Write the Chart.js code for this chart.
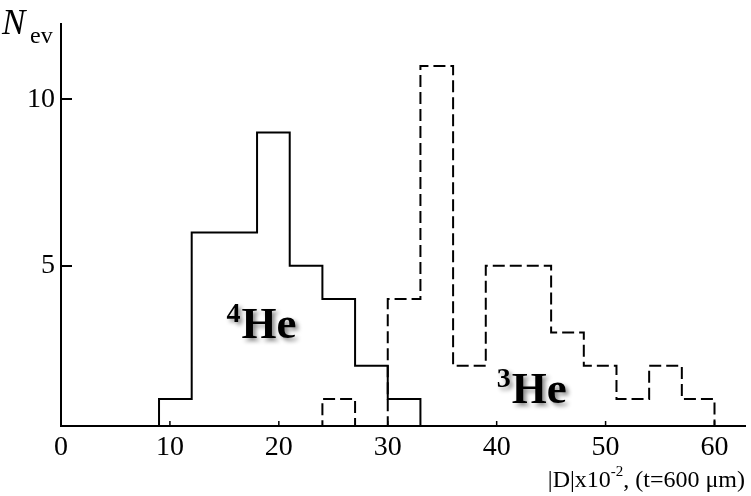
<!DOCTYPE html>
<html>
<head>
<meta charset="utf-8">
<script src="https://cdn.jsdelivr.net/npm/chart.js@4.4.0/dist/chart.umd.min.js"></script>
<style>
  html, body { margin: 0; padding: 0; background: #fff; }
  #wrap { width: 751px; height: 496px; position: relative; }
</style>
</head>
<body>
<div id="wrap"><canvas id="histChart"></canvas></div>
<script>
// Histogram bins (width 3) and counts per species
const binWidth = 3;
const he4Start = 9;
const he4Counts = [1, 6, 6, 9, 5, 4, 2, 1];
const he3Start = 24;
const he3Counts = [1, 0, 4, 11, 2, 5, 5, 3, 2, 1, 2, 1];

// Axis ticks
const xTicks = [0, 10, 20, 30, 40, 50, 60];
const yTicks = [5, 10];

const serif = '"Liberation Serif", "Times New Roman", serif';

// Turn bin counts into an outline with explicit corners
function histOutline(start, counts) {
    const pts = [{ x: start, y: 0 }];
    counts.forEach((c, i) => {
        const left = start + i * binWidth;
        pts.push({ x: left, y: c });
        pts.push({ x: left + binWidth, y: c });
    });
    pts.push({ x: start + counts.length * binWidth, y: 0 });
    return pts;
}

// Inward tick marks, axis title, y label and species labels
const decorations = {
    id: 'decorations',
    afterDraw(chart) {
        const { ctx, chartArea, scales } = chart;
        const xs = scales.x, ys = scales.y;
        ctx.save();
        ctx.strokeStyle = '#000';

        ctx.lineWidth = 2;
        yTicks.forEach(v => {
            const py = Math.round(ys.getPixelForValue(v));
            ctx.beginPath();
            ctx.moveTo(chartArea.left, py);
            ctx.lineTo(chartArea.left + 11, py);
            ctx.stroke();
        });
        ctx.lineWidth = 1.5;
        xTicks.slice(1).forEach(v => {
            const px = xs.getPixelForValue(v);
            ctx.beginPath();
            ctx.moveTo(px, chartArea.bottom);
            ctx.lineTo(px, chartArea.bottom - 5);
            ctx.stroke();
        });

        ctx.fillStyle = '#000';
        ctx.textBaseline = 'alphabetic';
        ctx.textAlign = 'left';

        // N_ev
        ctx.font = 'italic 35px ' + serif;
        ctx.fillText('N', 2, 34);
        ctx.font = '24px ' + serif;
        ctx.fillText('ev', 30, 43);

        // x axis title, right aligned
        const parts = [
            { t: '|D|x10', f: '24px ' + serif, dy: 0 },
            { t: '-2', f: '15px ' + serif, dy: -11 },
            { t: ', (t=600 \u03bcm)', f: '24px ' + serif, dy: 0 }
        ];
        let total = 0;
        parts.forEach(p => { ctx.font = p.f; p.w = ctx.measureText(p.t).width; total += p.w; });
        let tx = 745 - total;
        parts.forEach(p => {
            ctx.font = p.f;
            ctx.fillText(p.t, tx, 487 + p.dy);
            tx += p.w;
        });

        // species labels with soft shadow
        ctx.shadowColor = 'rgba(0,0,0,0.45)';
        ctx.shadowBlur = 4;
        ctx.shadowOffsetX = 3;
        ctx.shadowOffsetY = 3;
        [
            { sup: '4', x: 15.2, y: 2.83 },
            { sup: '3', x: 40.0, y: 0.88 }
        ].forEach(l => {
            const px = xs.getPixelForValue(l.x);
            const py = ys.getPixelForValue(l.y);
            ctx.font = 'bold 28px ' + serif;
            ctx.fillText(l.sup, px, py - 16);
            const w = ctx.measureText(l.sup).width;
            ctx.font = 'bold 45px ' + serif;
            ctx.fillText('He', px + w + 1, py);
        });
        ctx.restore();
    }
};

new Chart(document.getElementById('histChart'), {
    type: 'line',
    data: {
        datasets: [
            {
                label: '4He',
                data: histOutline(he4Start, he4Counts),
                borderColor: '#000',
                borderWidth: 2,
                pointRadius: 0,
                fill: false,
                tension: 0
            },
            {
                label: '3He',
                data: histOutline(he3Start, he3Counts),
                borderColor: '#000',
                borderWidth: 2,
                borderDash: [12, 5],
                pointRadius: 0,
                fill: false,
                tension: 0
            }
        ]
    },
    options: {
        responsive: true,
        maintainAspectRatio: false,
        animation: false,
        layout: { padding: { top: 24, right: 6, left: 0, bottom: 0 } },
        plugins: { legend: { display: false }, tooltip: { enabled: false } },
        scales: {
            x: {
                type: 'linear',
                min: 0,
                max: 62.8,
                afterFit: scale => { scale.height = 70; },
                afterBuildTicks: scale => { scale.ticks = xTicks.map(v => ({ value: v })); },
                grid: { display: true, drawOnChartArea: false, drawTicks: false },
                border: { display: true, color: '#000', width: 2 },
                ticks: {
                    autoSkip: false,
                    maxRotation: 0,
                    padding: 5,
                    color: '#000',
                    font: { family: serif, size: 28 }
                }
            },
            y: {
                type: 'linear',
                min: 0.19,
                max: 12.26,
                afterFit: scale => { scale.width = 61; },
                afterBuildTicks: scale => { scale.ticks = yTicks.map(v => ({ value: v })); },
                grid: { display: true, drawOnChartArea: false, drawTicks: false },
                border: { display: true, color: '#000', width: 2 },
                ticks: {
                    padding: 6,
                    color: '#000',
                    font: { family: serif, size: 28 }
                }
            }
        }
    },
    plugins: [decorations]
});
</script>
</body>
</html>
